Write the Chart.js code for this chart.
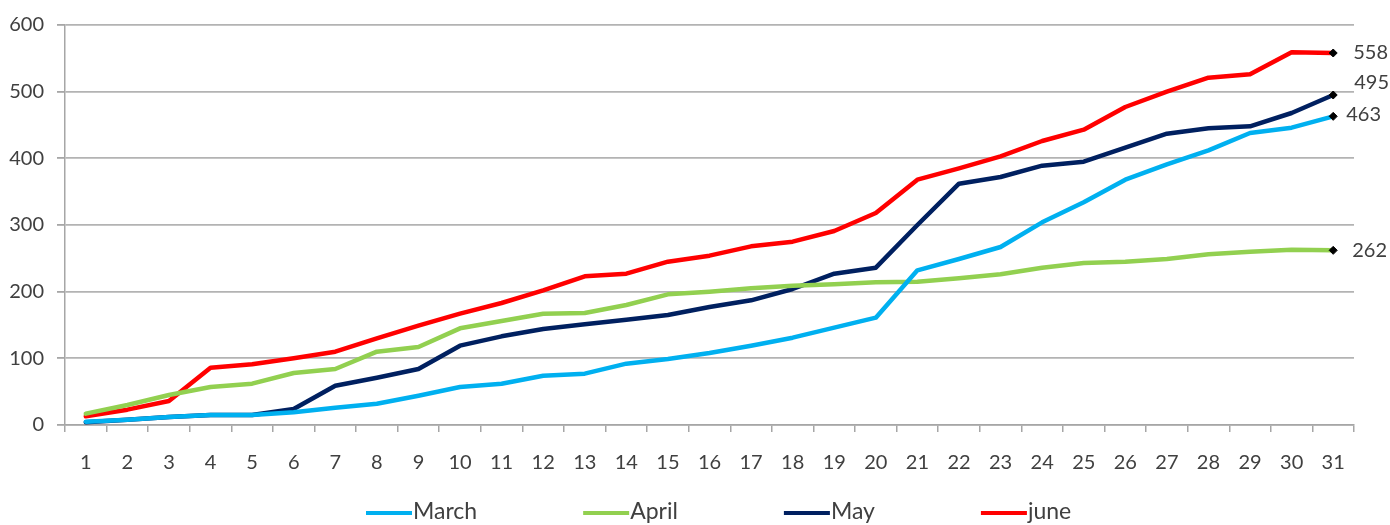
<!DOCTYPE html>
<html>
<head>
<meta charset="utf-8">
<script src="https://cdn.jsdelivr.net/npm/chart.js@4.4.1/dist/chart.umd.min.js"></script>
<style>
  html, body { margin: 0; padding: 0; background: #ffffff; }
  #wrap { width: 1390px; height: 525px; position: relative; }
</style>
</head>
<body>
<div id="wrap"><canvas id="c" width="1390" height="525"></canvas></div>
<script>
const days = ['1','2','3','4','5','6','7','8','9','10','11','12','13','14','15','16','17','18','19','20','21','22','23','24','25','26','27','28','29','30','31'];
const seriesNames = ['March', 'April', 'May', 'june'];
const march = [5,8,12,15,15,19,26,32,44,57,62,74,77,92,99,108,119,131,146,161,232,249,267,304,334,368,391,412,438,446,463];
const april = [17,30,45,57,62,78,84,110,117,145,156,167,168,180,196,200,205,209,211,214,215,220,226,236,243,245,249,256,260,263,262];
const may = [4,8,12,15,15,24,59,71,84,119,133,144,151,158,165,177,187,204,227,236,300,362,372,389,395,416,437,445,448,468,495];
const june = [13,23,36,86,91,100,110,130,149,167,183,202,223,227,245,254,268,275,291,318,368,385,403,426,443,477,500,521,526,559,558];
const yTicks = [0,100,200,300,400,500,600];

const colors = ['#00B0F0', '#92D050', '#002060', '#FF0000'];
const values = [march, april, may, june];
// label offsets for end-value annotations [dx, dy] (style, not data)
const endLabelOffsets = [[13, -2], [19, 0], [21, -12], [20, 0]];
const FONT = 'Lato, "Open Sans", sans-serif';
const TEXT = '#404040';

function mkDataset(i) {
  const n = values[i].length;
  return {
    label: seriesNames[i],
    data: values[i],
    borderColor: colors[i],
    backgroundColor: colors[i],
    borderWidth: 4.5,
    tension: 0,
    fill: false,
    borderJoinStyle: 'round',
    borderCapStyle: 'round',
    pointStyle: 'rectRot',
    pointRadius: (ctx) => ctx.dataIndex === n - 1 ? 4 : 0,
    pointHoverRadius: 0,
    pointBackgroundColor: '#000000',
    pointBorderColor: '#000000',
    pointBorderWidth: 1
  };
}

const endLabels = {
  id: 'endLabels',
  afterDatasetsDraw(chart) {
    const ctx = chart.ctx;
    ctx.save();
    ctx.font = '20px ' + FONT;
    ctx.fillStyle = TEXT;
    ctx.textAlign = 'left';
    ctx.textBaseline = 'middle';
    chart.data.datasets.forEach((ds, i) => {
      const meta = chart.getDatasetMeta(i);
      const last = meta.data[meta.data.length - 1];
      const off = endLabelOffsets[i];
      ctx.fillText(String(ds.data[ds.data.length - 1]), last.x + off[0], last.y + off[1]);
    });
    ctx.restore();
  }
};

const customLegend = {
  id: 'customLegend',
  afterDraw(chart) {
    const ctx = chart.ctx;
    ctx.save();
    ctx.font = '23px ' + FONT;
    ctx.textBaseline = 'middle';
    ctx.textAlign = 'left';
    let x = 366;
    const y = 512;
    chart.data.datasets.forEach((ds) => {
      ctx.strokeStyle = ds.borderColor;
      ctx.lineWidth = 4;
      ctx.lineCap = 'butt';
      ctx.beginPath();
      ctx.moveTo(x, y + 1);
      ctx.lineTo(x + 46, y + 1);
      ctx.stroke();
      ctx.fillStyle = TEXT;
      ctx.fillText(ds.label, x + 47, y);
      const w = ctx.measureText(ds.label).width;
      x += 47 + w + 106;
    });
    ctx.restore();
  }
};

new Chart(document.getElementById('c'), {
  type: 'line',
  data: {
    labels: days,
    datasets: [0,1,2,3].map(mkDataset)
  },
  options: {
    responsive: false,
    animation: false,
    events: [],
    layout: { padding: { left: 0, right: 36, top: 21, bottom: 0 } },
    plugins: {
      legend: { display: false },
      tooltip: { enabled: false },
      title: { display: false }
    },
    scales: {
      x: {
        type: 'category',
        offset: true,
        grid: {
          offset: true,
          drawOnChartArea: false,
          drawTicks: true,
          tickLength: 7,
          color: '#a6a6a6',
          lineWidth: 1.5
        },
        border: { display: true, color: '#a6a6a6', width: 1.5 },
        ticks: {
          color: TEXT,
          font: { family: FONT, size: 20 },
          padding: 19,
          maxRotation: 0,
          autoSkip: false
        },
        afterFit(scale) { scale.height = 100; }
      },
      y: {
        min: 0,
        max: 600,
        afterBuildTicks(scale) { scale.ticks = yTicks.map(v => ({ value: v })); },
        grid: {
          color: '#b3b3b3',
          lineWidth: 1.8,
          drawTicks: true,
          tickLength: 8,
          tickColor: '#a6a6a6'
        },
        border: { display: true, color: '#a6a6a6', width: 1.5 },
        ticks: {
          color: TEXT,
          font: { family: FONT, size: 20 },
          padding: 13
        },
        afterFit(scale) { scale.width = 65; }
      }
    }
  },
  plugins: [endLabels, customLegend]
});
</script>
</body>
</html>
